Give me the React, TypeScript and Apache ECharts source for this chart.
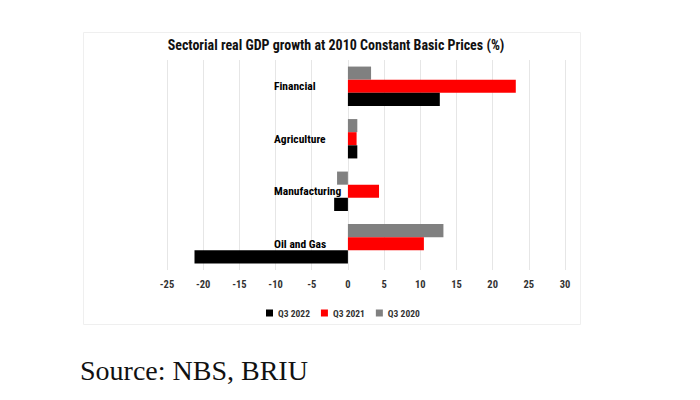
import React, { useEffect, useRef } from "react";
import * as echarts from "echarts";

const categories = ["Oil and Gas", "Manufacturing", "Agriculture", "Financial"];
const q3_2022 = [-21.2, -1.9, 1.3, 12.7];
const q3_2021 = [10.5, 4.3, 1.2, 23.2];
const q3_2020 = [13.2, -1.5, 1.3, 3.2];
const legendOrder = ["Q3 2022", "Q3 2021", "Q3 2020"];
const title = "Sectorial real GDP growth at 2010 Constant Basic Prices (%)";
const source = "Source: NBS, BRIU";

const COND = "'Liberation Sans Narrow', 'Roboto Condensed', Roboto, 'Liberation Sans', sans-serif";

export default function App() {
  const ref = useRef<HTMLDivElement>(null);
  useEffect(() => {
    if (!ref.current) return;
    const chart = echarts.init(ref.current, undefined, { renderer: "svg" });
    // drawn top-to-bottom within each category: Q3 2020 (top), Q3 2021, Q3 2022 (bottom)
    const seriesDefs = [
      { name: "Q3 2020", data: q3_2020, color: "#808080" },
      { name: "Q3 2021", data: q3_2021, color: "#ff0000" },
      { name: "Q3 2022", data: q3_2022, color: "#000000" },
    ];
    chart.setOption({
      animation: false,
      backgroundColor: "#ffffff",
      title: {
        text: title,
        left: 331,
        top: 33,
        textAlign: "center",
        textStyle: { fontFamily: COND, fontWeight: "bold", fontSize: 14, color: "#111" },
      },
      graphic: [
        {
          type: "rect",
          shape: { x: 83.5, y: 32.5, width: 497, height: 292 },
          style: { fill: "none", stroke: "#efefef", lineWidth: 1 },
          silent: true,
          z: -1,
        },
        {
          type: "text",
          left: 80,
          top: 356,
          style: {
            text: source,
            font: "28px 'Liberation Serif', 'DejaVu Serif', serif",
            fill: "#111",
          },
        },
      ],
      legend: {
        data: legendOrder,
        left: 261,
        top: 303,
        icon: "rect",
        itemWidth: 7,
        itemHeight: 7,
        itemGap: 11,
        textStyle: { fontFamily: COND, fontWeight: "bold", fontSize: 9.5, color: "#333" },
      },
      grid: { left: 167, right: 135, top: 60, bottom: 130, containLabel: false },
      xAxis: {
        type: "value",
        min: -25,
        max: 30,
        interval: 5,
        axisLine: { show: false },
        axisTick: { show: false },
        splitLine: { show: true, lineStyle: { color: "#e6e6e6", width: 1 } },
        axisLabel: {
          fontFamily: COND,
          fontWeight: "bold",
          fontSize: 10.5,
          color: "#333",
          margin: 9,
        },
      },
      yAxis: {
        type: "category",
        data: categories,
        offset: -180,
        axisLine: { show: false, onZero: false },
        axisTick: { show: false },
        splitLine: { show: false },
        axisLabel: {
          align: "left",
          margin: 73,
          fontFamily: COND,
          fontWeight: "bold",
          fontSize: 11.5,
          color: "#000",
        },
      },
      series: seriesDefs.map((s) => ({
        name: s.name,
        type: "bar",
        data: s.data,
        itemStyle: { color: s.color },
        barGap: "0%",
        barCategoryGap: "25%",
      })),
    });
    return () => chart.dispose();
  }, []);
  return (
    <div
      ref={ref}
      style={{ position: "fixed", left: 0, top: 0, width: 700, height: 400, background: "#fff" }}
    />
  );
}
